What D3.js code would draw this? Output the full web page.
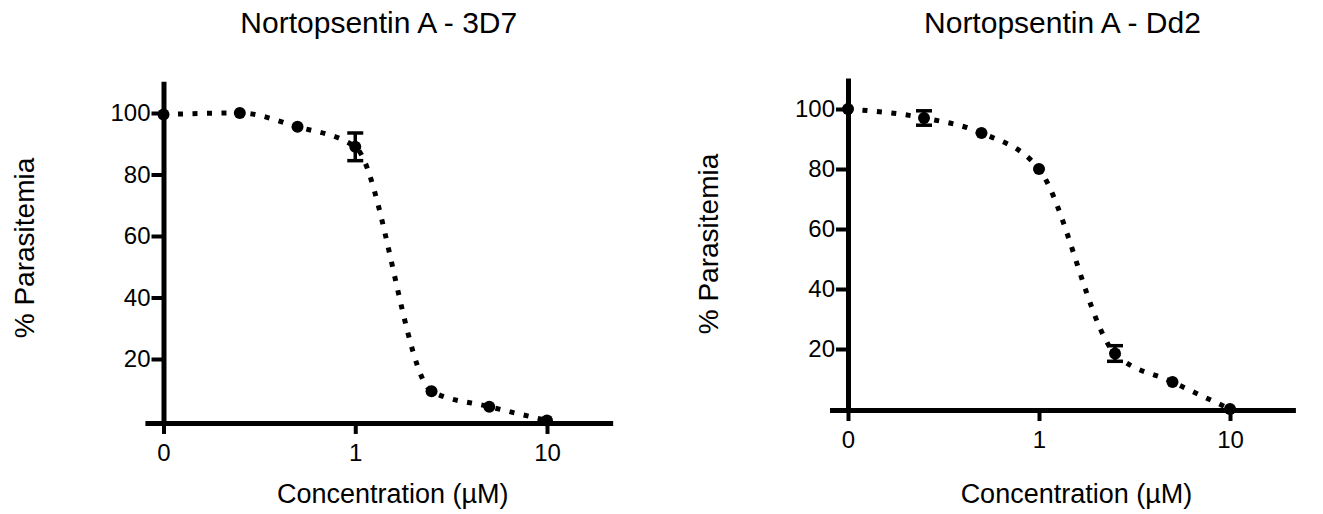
<!DOCTYPE html>
<meta charset="utf-8">
<style>

body {
  margin: 0;
  background: #fff;
}

text {
  font-family: "Liberation Sans", Arial, sans-serif;
  fill: #000;
}

.axis path,
.axis line {
  stroke: #000;
}

.axis path {
  stroke-width: 5;
}

.axis line {
  stroke-width: 4;
}

.axis text {
  font-size: 24px;
}

.fit {
  fill: none;
  stroke: #000;
  stroke-width: 5;
  stroke-dasharray: 5 9.5;
}

.dot {
  fill: #000;
}

.err {
  stroke: #000;
  stroke-width: 3.5;
}

</style>
<svg width="1323" height="514"></svg>
<script src="https://d3js.org/d3.v7.min.js"></script>
<script>

// concentrations in µM, 0 is drawn at the 0.1 position of the log axis
var concentrations = [0, 0.25, 0.5, 1, 2.5, 5, 10];

var parasitemia3D7 = [99.5, 100, 95.5, 89, 9.5, 4.5, 0];
var error3D7 = [0, 0, 0, 4.5, 0, 0, 0];

var parasitemiaDd2 = [100, 97, 92, 80, 18.5, 9, 0];
var errorDd2 = [0, 2.4, 0, 0, 2.6, 0, 0];

var xTickValues = [0.1, 1, 10];
var xTickLabels = ["0", "1", "10"];
var yTickValues = [20, 40, 60, 80, 100];

var titles = ["Nortopsentin A - 3D7", "Nortopsentin A - Dd2"];
var xLabel = "Concentration (µM)";
var yLabel = "% Parasitemia";

var svg = d3.select("svg");

// pixel positions of x = 0.1 and 10, y = 0 and 100 for each panel
var panels = [
  {x01: 163.5, x10: 547, y0: 420.5, y100: 113, axisBottom: -0.8, values: parasitemia3D7, errors: error3D7, title: titles[0]},
  {x01: 848, x10: 1230, y0: 409, y100: 109, axisBottom: -0.33, values: parasitemiaDd2, errors: errorDd2, title: titles[1]}
];

panels.forEach(function(p) {
  var x = d3.scaleLog().domain([0.1, 10]).range([p.x01, p.x10]),
      y = d3.scaleLinear().domain([0, 100]).range([p.y0, p.y100]);

  var xAxisScale = x.copy().domain([0.08, 22]).range([x(0.08), x(22)]),
      yAxisScale = y.copy().domain([p.axisBottom, 110.3]).range([y(p.axisBottom), y(110.3)]);

  var data = concentrations.map(function(c, i) {
    return {c: c === 0 ? 0.1 : c, v: p.values[i], e: p.errors[i]};
  });

  var g = svg.append("g");

  var line = d3.line()
      .x(function(d) { return x(d.c); })
      .y(function(d) { return y(d.v); })
      .curve(d3.curveMonotoneX);

  g.append("path")
      .datum(data)
      .attr("class", "fit")
      .attr("d", line);

  g.append("g")
      .attr("class", "axis axis--x")
      .attr("transform", "translate(0," + yAxisScale(p.axisBottom) + ")")
      .call(d3.axisBottom(xAxisScale)
        .tickValues(xTickValues)
        .tickFormat(function(d, i) { return xTickLabels[i]; })
        .tickSize(11)
        .tickSizeOuter(0)
        .tickPadding(10))
      .call(function(a) { a.selectAll("text").attr("font-family", null).attr("font-size", null); });

  g.append("g")
      .attr("class", "axis axis--y")
      .attr("transform", "translate(" + x(0.1) + ",0)")
      .call(d3.axisLeft(yAxisScale)
        .tickValues(yTickValues)
        .tickSize(12)
        .tickSizeOuter(0)
        .tickPadding(1))
      .call(function(a) { a.selectAll("text").attr("font-family", null).attr("font-size", null); });

  var errs = data.filter(function(d) { return d.e > 0; });

  g.selectAll(".err-v")
    .data(errs)
    .enter().append("line")
      .attr("class", "err")
      .attr("x1", function(d) { return x(d.c); })
      .attr("x2", function(d) { return x(d.c); })
      .attr("y1", function(d) { return y(d.v + d.e); })
      .attr("y2", function(d) { return y(d.v - d.e); });

  [1, -1].forEach(function(s) {
    g.selectAll(".err-cap" + s)
      .data(errs)
      .enter().append("line")
        .attr("class", "err")
        .attr("x1", function(d) { return x(d.c) - 8; })
        .attr("x2", function(d) { return x(d.c) + 8; })
        .attr("y1", function(d) { return y(d.v + s * d.e); })
        .attr("y2", function(d) { return y(d.v + s * d.e); });
  });

  g.selectAll(".dot")
    .data(data)
    .enter().append("circle")
      .attr("class", "dot")
      .attr("cx", function(d) { return x(d.c); })
      .attr("cy", function(d) { return y(d.v); })
      .attr("r", 6);

  var cx = (xAxisScale.range()[0] + xAxisScale.range()[1]) / 2;

  g.append("text")
      .attr("x", cx)
      .attr("y", 33)
      .attr("text-anchor", "middle")
      .attr("font-size", 30)
      .text(p.title);

  g.append("text")
      .attr("x", cx + 14)
      .attr("y", 503)
      .attr("text-anchor", "middle")
      .attr("font-size", 27)
      .text(xLabel);

  g.append("text")
      .attr("transform", "translate(" + (x(0.1) - 130) + "," + (p.y100 + 135) + ") rotate(-90)")
      .attr("text-anchor", "middle")
      .attr("font-size", 28)
      .text(yLabel);
});

</script>
